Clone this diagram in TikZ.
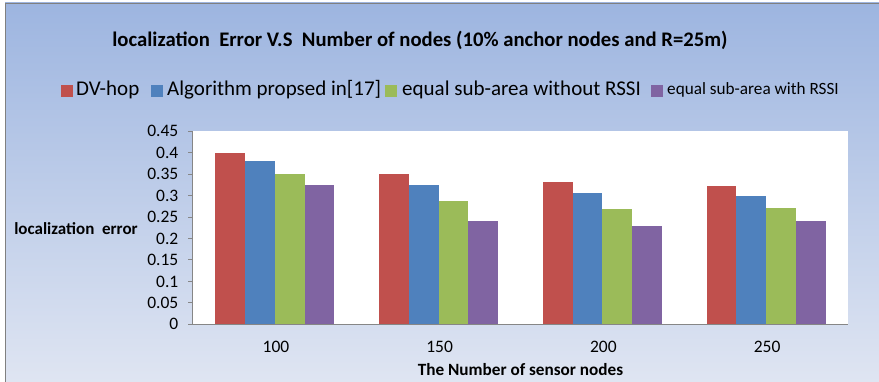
\documentclass[tikz,border=0pt]{standalone}
\usepackage{fontspec}
\setmainfont{Carlito}
\definecolor{bgtop}{RGB}{157,181,224}
\definecolor{bgbot}{RGB}{223,229,242}
\definecolor{framegray}{RGB}{128,128,128}
\definecolor{axisgray}{RGB}{134,134,134}
\definecolor{sred}{RGB}{192,80,77}
\definecolor{sblue}{RGB}{79,129,189}
\definecolor{sgreen}{RGB}{155,187,89}
\definecolor{spurple}{RGB}{128,100,162}
\tikzset{
  ticklab/.style={anchor=east,inner sep=0pt,font=\fontsize{17.5}{19}\selectfont},
  catlab/.style={inner sep=0pt,font=\fontsize{17.5}{19}\selectfont},
  legtext/.style={anchor=west,inner sep=0pt,font=\fontsize{21}{23}\selectfont},
  legbox/.style={minimum width=11.5pt,minimum height=11.5pt,inner sep=0pt,anchor=west},
  axisline/.style={draw=axisgray,line width=1pt}
}
\begin{document}
\begin{tikzpicture}[x=1pt,y=-1pt]
\useasboundingbox (0,0) rectangle (879,382);
\fill[white] (0,0) rectangle (879,382);
\shade[top color=bgtop,bottom color=bgbot] (5,3) rectangle (879,382);
\draw[framegray,line width=1.5pt] (5.5,382) -- (5.5,3.5) -- (879,3.5);
% title
\node[inner sep=0pt,font=\fontsize{20.7}{23}\selectfont\bfseries] (title) at (420,40)
  {localization\ \ Error V.S\ \ Number of nodes (10\% anchor nodes and R=25m)};
% legend
\node[legbox,fill=sred] (k1) at (61,91) {};
\node[legtext] (l1) at (76,90) {DV-hop};
\node[legbox,fill=sblue] (k2) at (151,91) {};
\node[legtext] (l2) at (167,90) {Algorithm propsed in[17]};
\node[legbox,fill=sgreen] (k3) at (385,91) {};
\node[legtext] (l3) at (402,90) {equal sub-area without RSSI};
\node[legbox,fill=spurple] (k4) at (651,91) {};
\node[legtext,font=\fontsize{17.2}{19}\selectfont] (l4) at (667,90) {equal sub-area with RSSI};
% plot area
\fill[white] (193,131) rectangle (848,324.3);
% bars
\foreach \g/\a/\b/\c/\d in {0/0.4/0.38/0.35/0.325, 1/0.35/0.325/0.287/0.24, 2/0.331/0.3055/0.269/0.23, 3/0.3225/0.299/0.2705/0.24}{
  \pgfmathsetmacro{\cx}{193+163.75*(\g+0.5)}
  \pgfmathsetmacro{\xs}{\cx-2*29.77}
  \fill[sred] (\xs,324.3) rectangle ++(29.77,-\a*428.9);
  \fill[sblue] (\xs+29.77,324.3) rectangle ++(29.77,-\b*428.9);
  \fill[sgreen] (\xs+2*29.77,324.3) rectangle ++(29.77,-\c*428.9);
  \fill[spurple] (\xs+3*29.77,324.3) rectangle ++(29.77,-\d*428.9);
}
% axes
\draw[axisline] (192.5,131) -- (192.5,324.3);
\draw[axisline] (188,324.3) -- (848,324.3);
\foreach \i/\t in {0/0,1/0.05,2/0.1,3/0.15,4/0.2,5/0.25,6/0.3,7/0.35,8/0.4,9/0.45}{
  \draw[axisline] (188,324.3-\i*21.44) -- (192.5,324.3-\i*21.44);
  \node[ticklab] (t\i) at (178.5,324.3-\i*21.44) {\t};
}
% category labels
\node[catlab] (c1) at (276,347) {100};
\node[catlab] (c2) at (439.6,347) {150};
\node[catlab] (c3) at (603.4,347) {200};
\node[catlab] (c4) at (767.1,347) {250};
% axis titles
\node[inner sep=0pt,font=\fontsize{17.2}{19}\selectfont\bfseries] (xt) at (520.5,370) {The Number of sensor nodes};
\node[inner sep=0pt,font=\fontsize{17}{19}\selectfont\bfseries] (yt) at (76,229) {localization\ \ error};
\end{tikzpicture}
\end{document}
